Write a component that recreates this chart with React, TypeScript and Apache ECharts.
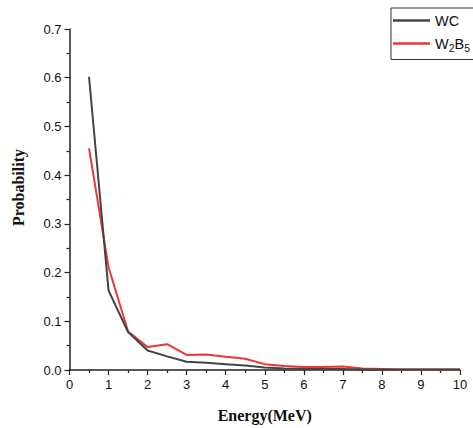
import React, { useEffect, useRef } from "react";
import * as echarts from "echarts";

const energy = [0.5, 1, 1.5, 2, 2.5, 3, 3.5, 4, 4.5, 5, 5.5, 6, 6.5, 7, 7.5, 8, 8.5, 9, 9.5, 10];
const wcValues = [0.602, 0.163, 0.078, 0.040, 0.028, 0.017, 0.015, 0.012, 0.009, 0.005, 0.003, 0.002, 0.002, 0.002, 0.001, 0.001, 0.001, 0.001, 0.001, 0.001];
const w2b5Values = [0.455, 0.211, 0.079, 0.047, 0.053, 0.031, 0.032, 0.027, 0.023, 0.012, 0.008, 0.006, 0.006, 0.007, 0.003, 0.002, 0.001, 0.001, 0.001, 0.001];
const seriesNames = ["WC", "W2B5"];
const xTicks = [0, 1, 2, 3, 4, 5, 6, 7, 8, 9, 10];
const yTicks = [0, 0.1, 0.2, 0.3, 0.4, 0.5, 0.6, 0.7];

export default function App() {
  const ref = useRef<HTMLDivElement>(null);
  useEffect(() => {
    if (!ref.current) return;
    const chart = echarts.init(ref.current, null, { renderer: "svg" });
    const axisColor = "#222";
    const sans = "Liberation Sans";
    chart.setOption({
      animation: false,
      backgroundColor: "#fff",
      grid: { left: 69.5, right: 13, top: 29, bottom: 56.5 },
      legend: {
        orient: "vertical",
        left: 391,
        top: 8,
        data: seriesNames,
        icon: "rect",
        itemWidth: 37,
        itemHeight: 2.5,
        itemGap: 8,
        padding: [5, 20, 6, 2],
        borderColor: "#333",
        borderWidth: 1,
        backgroundColor: "#fff",
        textStyle: {
          fontFamily: sans,
          fontSize: 14.5,
          color: "#111",
          rich: {
            sub: { fontFamily: sans, fontSize: 10.5, color: "#111", verticalAlign: "bottom", padding: [9, 0, 0, 0] },
            n: { fontFamily: sans, fontSize: 14.5, color: "#111" },
          },
        },
        formatter: (name: string) => (name === "W2B5" ? "{n|W}{sub|2}{n|B}{sub|5}" : "{n|" + name + "}"),
      },
      xAxis: {
        type: "value",
        min: xTicks[0],
        max: xTicks[xTicks.length - 1],
        interval: 1,
        name: "Energy(MeV)",
        nameLocation: "middle",
        nameGap: 37,
        nameTextStyle: { fontFamily: "Liberation Serif", fontWeight: "bold", fontSize: 16, color: "#111" },
        axisLine: { lineStyle: { color: axisColor, width: 1.5 } },
        axisTick: { show: true, inside: false, length: 5, lineStyle: { color: axisColor, width: 1.2 } },
        minorTick: { show: true, splitNumber: 2, length: 3, lineStyle: { color: axisColor, width: 1.2 } },
        axisLabel: { fontFamily: sans, fontSize: 13, color: "#111", margin: 8 },
        splitLine: { show: false },
      },
      yAxis: {
        type: "value",
        min: yTicks[0],
        max: yTicks[yTicks.length - 1],
        interval: 0.1,
        name: "Probability",
        nameLocation: "middle",
        nameGap: 43,
        nameTextStyle: { fontFamily: "Liberation Serif", fontWeight: "bold", fontSize: 16, color: "#111", padding: [0, 0, 0, 24] },
        axisLine: { show: true, lineStyle: { color: axisColor, width: 1.5 } },
        axisTick: { show: true, inside: false, length: 5, lineStyle: { color: axisColor, width: 1.2 } },
        minorTick: { show: true, splitNumber: 2, length: 3, lineStyle: { color: axisColor, width: 1.2 } },
        axisLabel: { fontFamily: sans, fontSize: 13, color: "#111", margin: 8, formatter: (v: number) => v.toFixed(1) },
        splitLine: { show: false },
      },
      series: [
        {
          name: seriesNames[0],
          type: "line",
          data: energy.map((e, i) => [e, wcValues[i]]),
          symbol: "none",
          lineStyle: { color: "#444", width: 2 },
          itemStyle: { color: "#444" },
          z: 3,
        },
        {
          name: seriesNames[1],
          type: "line",
          data: energy.map((e, i) => [e, w2b5Values[i]]),
          symbol: "none",
          lineStyle: { color: "#ee3535", width: 2 },
          itemStyle: { color: "#ee3535" },
          z: 2,
        },
      ],
    });
    return () => chart.dispose();
  }, []);
  return <div ref={ref} style={{ position: "fixed", left: 0, top: 0, width: 473, height: 428 }} />;
}
